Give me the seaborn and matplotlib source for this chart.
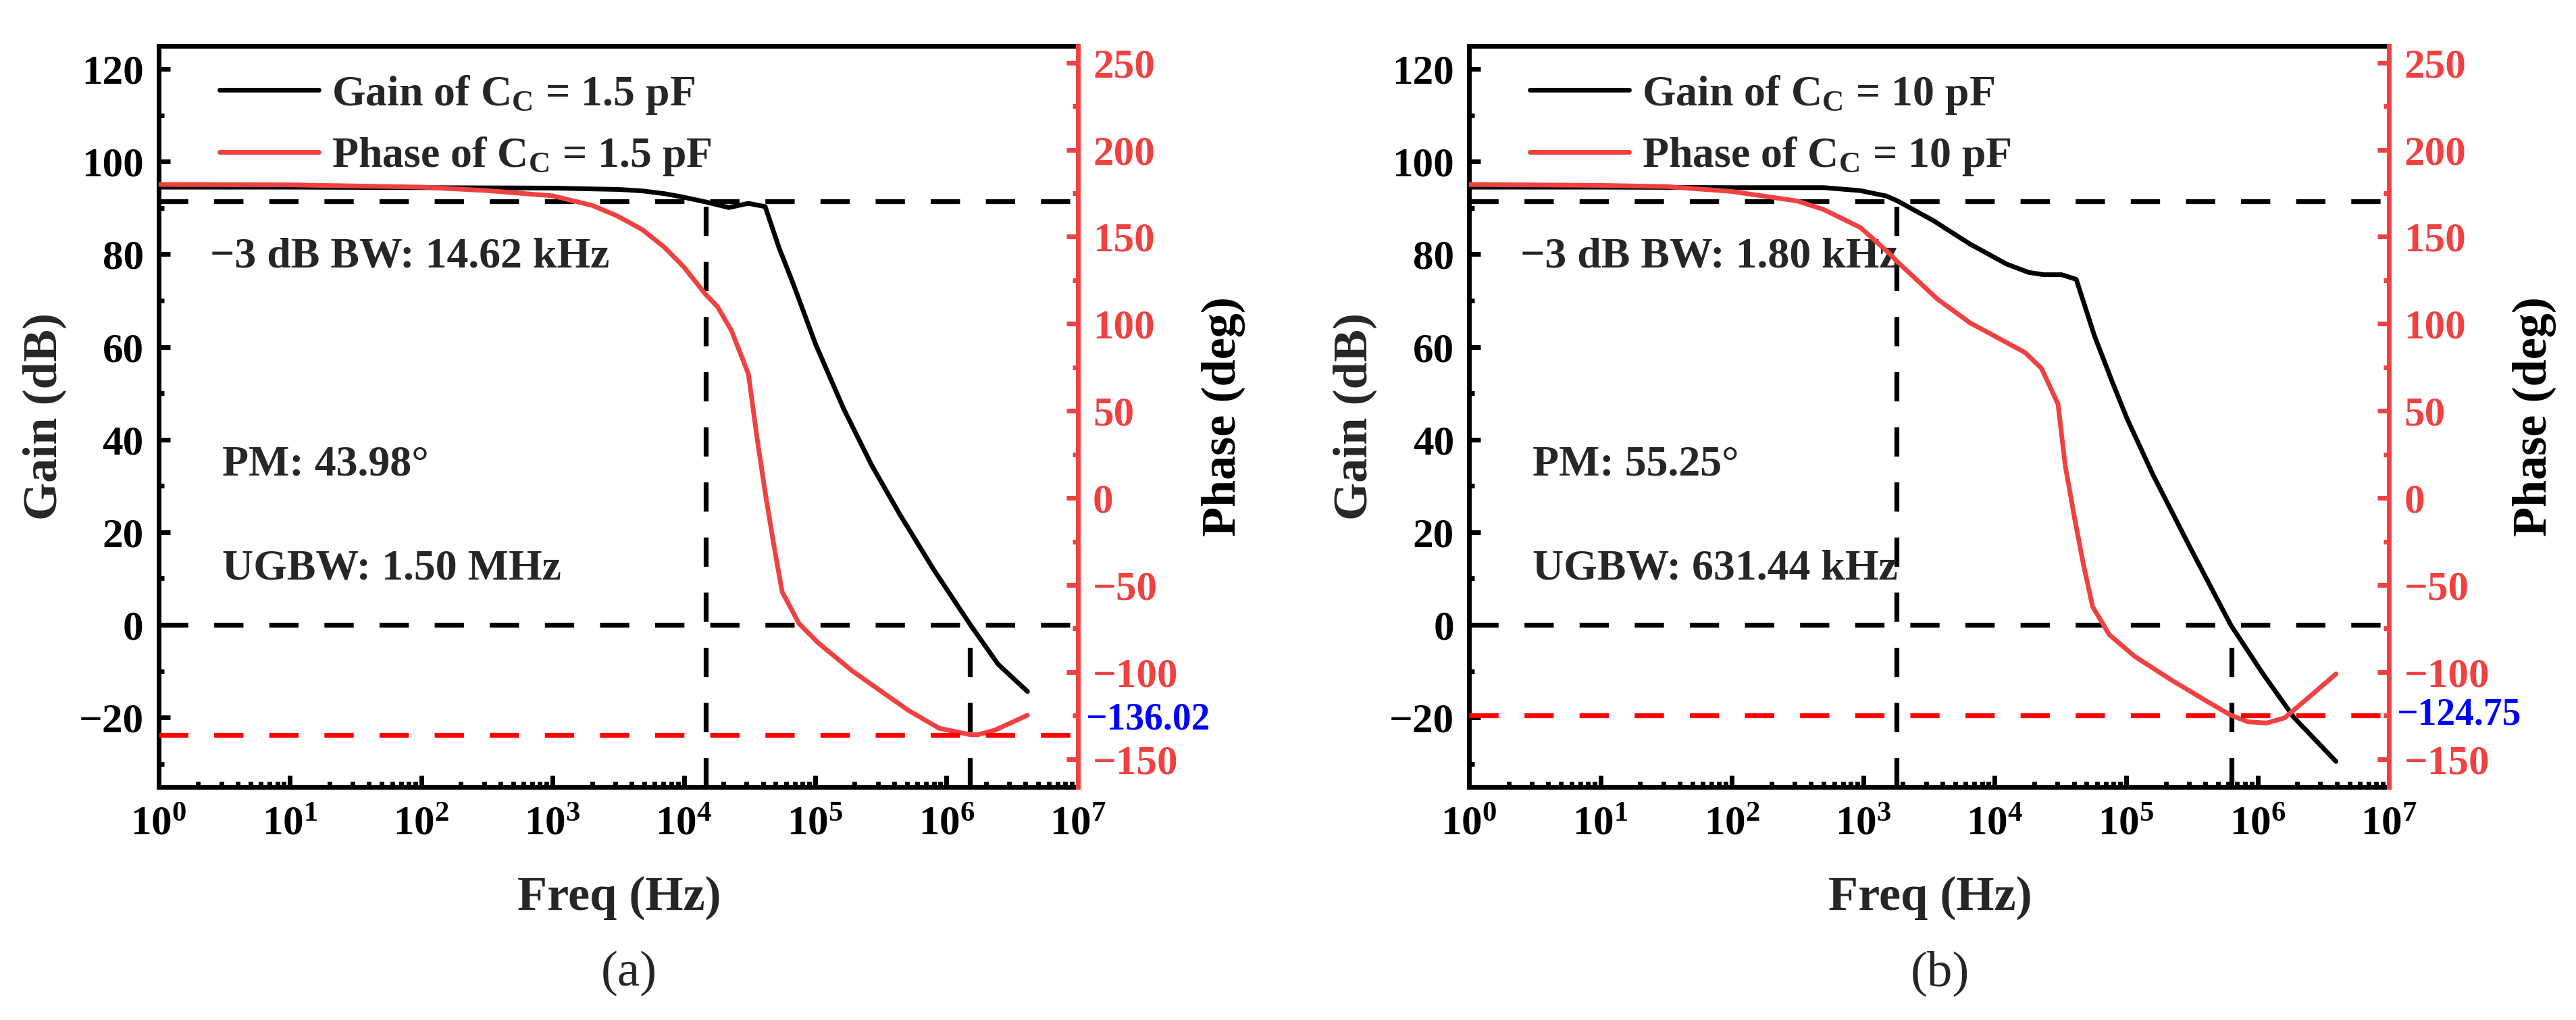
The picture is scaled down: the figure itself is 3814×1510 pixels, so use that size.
import numpy as np
import matplotlib
matplotlib.use("Agg")
import matplotlib.pyplot as plt
from matplotlib.ticker import MultipleLocator, LogLocator, FuncFormatter, NullFormatter
import seaborn as sns

# ---- data ----
# (a) Cc = 1.5 pF
freq_gain_a = [1, 10, 100, 1e3, 3.2e3, 4.8e3, 7.1e3, 9.5e3, 14.7e3, 22e3, 31e3, 41.6e3,
               53.2e3, 68.1e3, 101e3, 165e3, 270e3, 442e3, 796e3, 1.52e6, 2.47e6, 4.14e6]
gain_a = [94.5, 94.5, 94.4, 94.3, 94.0, 93.7, 93.1, 92.45, 91.3, 90.1, 91.0, 90.3,
          81.3, 73.6, 60.5, 46.6, 34.4, 23.8, 12.0, 0.0, -8.5, -14.4]
freq_phase_a = [1, 10, 100, 316, 1e3, 2e3, 3.1e3, 4.8e3, 7.1e3, 1e4, 14.7e3, 18e3, 23e3,
                31e3, 36e3, 41.6e3, 48.3e3, 56e3, 75.2e3, 106e3, 191e3, 313e3, 512e3,
                879e3, 1.52e6, 1.74e6, 2.35e6, 4.14e6]
phase_a = [180, 179.8, 178.5, 176.5, 173.5, 168, 162, 154.2, 144, 132.6, 116.7, 109.9, 96.2,
           71.2, 34.9, 3.1, -26.6, -53.9, -72.1, -83.4, -99.3, -110.7, -122.0,
           -132.3, -136.0, -136.0, -133.3, -124.8]

# (b) Cc = 10 pF
freq_gain_b = [1, 10, 100, 500, 950, 1.49e3, 1.8e3, 3.4e3, 6.5e3, 12.3e3, 18.1e3, 23.6e3,
               32.3e3, 41.7e3, 57.4e3, 79.3e3, 102e3, 160e3, 304e3, 624e3, 1.1e6, 1.89e6, 3.95e6]
gain_b = [94.5, 94.5, 94.4, 94.4, 93.75, 92.6, 91.6, 87.3, 82.2, 77.9, 76.1, 75.6,
          75.6, 74.6, 62.4, 52.1, 44.4, 32.4, 16.9, 0.0, -10.6, -20.0, -29.5]
freq_phase_b = [1, 10, 32, 100, 316, 500, 950, 1.58e3, 1.8e3, 3.65e3, 6.5e3, 10.9e3, 17e3,
                22.7e3, 30.3e3, 34.4e3, 40.4e3, 47.4e3, 55.6e3, 74.3e3, 116e3, 221e3,
                420e3, 624e3, 847e3, 1.17e6, 1.61e6, 2.52e6, 3.95e6]
phase_b = [180, 179.5, 178.8, 176.0, 170.5, 165.6, 155.3, 140.4, 135.9, 114.3, 100.5, 91.4, 83.5,
           74.4, 53.9, 18.5, -11.2, -38.6, -62.5, -78.5, -91.0, -104.6,
           -117.2, -124.75, -128.6, -129.3, -126.3, -113.8, -101.1]

# marker values
gain_3db = 91.5
f3db_a, f3db_b = 14.62e3, 1.80e3
ugbw_a, ugbw_b = 1.50e6, 631.44e3
phase_ugbw_a, phase_ugbw_b = -136.02, -124.75

cc_a, cc_b = "1.5", "10"
bw_text_a, bw_text_b = "\u22123 dB BW: 14.62 kHz", "\u22123 dB BW: 1.80 kHz"
pm_text_a, pm_text_b = "PM: 43.98\u00b0", "PM: 55.25\u00b0"
ugbw_text_a, ugbw_text_b = "UGBW: 1.50 MHz", "UGBW: 631.44 kHz"

RED = "#F04141"
DASH_RED = "#FF0000"

sns.set_theme(style="ticks")
plt.rcParams["font.family"] = ["Liberation Serif", "DejaVu Serif"]
plt.rcParams["font.weight"] = "bold"
plt.rcParams["axes.labelweight"] = "bold"
plt.rcParams["mathtext.fontset"] = "custom"
plt.rcParams["mathtext.rm"] = "Liberation Serif:bold"
plt.rcParams["mathtext.bf"] = "Liberation Serif:bold"
plt.rcParams["mathtext.it"] = "Liberation Serif:bold"
plt.rcParams["axes.unicode_minus"] = True

LW = 2.5
DASH = (0, (6, 5.3))


def draw_panel(ax, fg, g, fp, p, f3db, ugbw, ph_ugbw, cc, bw_text, pm_text, ugbw_text,
               blue_offset, panel_label):
    ax2 = ax.twinx()

    sns.lineplot(x=fg, y=g, ax=ax, color="black", lw=LW, sort=False,
                 solid_capstyle="round")
    sns.lineplot(x=fp, y=p, ax=ax2, color=RED, lw=LW, sort=False,
                 solid_capstyle="round")

    ax.set_xscale("log")
    ax.set_xlim(1, 1e7)
    ax.set_ylim(-35, 125)
    ax2.set_ylim(-166, 259.6)

    # guide lines
    ax.axhline(gain_3db, color="black", lw=2.6, ls=DASH)
    ax.axhline(0, color="black", lw=2.6, ls=DASH)
    ax.plot([f3db, f3db], [-35, gain_3db], color="black", lw=2.6, ls=DASH)
    ax.plot([ugbw, ugbw], [-35, 0], color="black", lw=2.6, ls=DASH)
    ax2.axhline(ph_ugbw, color=DASH_RED, lw=2.6, ls=DASH)

    # ticks
    ax.xaxis.set_major_locator(LogLocator(base=10, numticks=20))
    ax.xaxis.set_minor_locator(LogLocator(base=10, subs=np.arange(2, 10), numticks=100))
    ax.xaxis.set_major_formatter(FuncFormatter(lambda v, pos: r"$\mathbf{10^{%d}}$" % round(np.log10(v))))
    ax.xaxis.set_minor_formatter(NullFormatter())
    ax.yaxis.set_major_locator(MultipleLocator(20))
    ax.yaxis.set_minor_locator(MultipleLocator(10))
    ax2.yaxis.set_major_locator(MultipleLocator(50))
    ax2.yaxis.set_minor_locator(MultipleLocator(25))

    ax.tick_params(which="both", direction="in", top=False, right=False,
                   labelsize=22, width=2.5, colors="black")
    ax.tick_params(which="major", length=6, pad=8)
    ax.tick_params(axis="x", which="major", pad=10)
    ax.tick_params(which="minor", length=2.8)
    ax2.tick_params(which="both", direction="in", left=False, right=True,
                    labelsize=22, width=2.5, colors=RED)
    ax2.tick_params(which="major", length=6, pad=8)
    ax2.tick_params(which="minor", length=2.8)
    for lab in ax.get_xticklabels() + ax.get_yticklabels() + ax2.get_yticklabels():
        lab.set_fontweight("bold")

    for side in ["left", "bottom", "top"]:
        ax.spines[side].set_linewidth(2.5)
        ax.spines[side].set_color("black")
        ax2.spines[side].set_visible(False)
    ax.spines["right"].set_visible(False)
    ax2.spines["right"].set_linewidth(2.5)
    ax2.spines["right"].set_color(RED)

    # labels
    ax.set_xlabel("Freq (Hz)", fontsize=26, va="center")
    ax.xaxis.set_label_coords(0.501, -0.150)
    ax.set_ylabel("Gain (dB)", fontsize=26, va="center")
    ax.yaxis.set_label_coords(-0.124, 0.5)
    ax2.set_ylabel("Phase (deg)", fontsize=26, va="center", color="black")
    ax2.yaxis.set_label_coords(1.158, 0.5)

    ax.text(0.512, -0.2516, panel_label, transform=ax.transAxes, ha="center",
            va="center", fontsize=27, fontweight="normal")

    ax.text(0.056, 0.715, bw_text, transform=ax.transAxes, fontsize=23,
            ha="left", va="center")
    ax.text(0.069, 0.434, pm_text, transform=ax.transAxes, fontsize=23,
            ha="left", va="center")
    ax.text(0.069, 0.294, ugbw_text, transform=ax.transAxes, fontsize=23,
            ha="left", va="center")

    ax2.text(1.008, ph_ugbw + blue_offset, f"{ph_ugbw:.2f}".replace("-", "\u2212"),
             transform=ax2.get_yaxis_transform(), color="#0000FF", fontsize=20,
             ha="left", va="center", clip_on=False)

    # legend
    handles = [ax.lines[0], ax2.lines[0]]
    labels = [r"Gain of C$_{\mathbf{C}}$ = %s pF" % cc,
              r"Phase of C$_{\mathbf{C}}$ = %s pF" % cc]
    if ax.get_legend() is not None:
        ax.get_legend().remove()
    if ax2.get_legend() is not None:
        ax2.get_legend().remove()
    ax2.legend(handles, labels, loc="upper left", bbox_to_anchor=(0.066, 0.963),
               frameon=False, fontsize=23, handlelength=2.3, handletextpad=0.3,
               labelspacing=0.45, borderpad=0, borderaxespad=0)


fig = plt.figure(figsize=(3814 / 200, 1510 / 200), dpi=200)
ax_a = fig.add_axes([0.0616, 0.2285, 0.3568, 0.7265])
ax_b = fig.add_axes([0.5703, 0.2285, 0.3571, 0.7265])

draw_panel(ax_a, freq_gain_a, gain_a, freq_phase_a, phase_a, f3db_a, ugbw_a, phase_ugbw_a,
           cc_a, bw_text_a, pm_text_a, ugbw_text_a, 8.5, "(a)")
draw_panel(ax_b, freq_gain_b, gain_b, freq_phase_b, phase_b, f3db_b, ugbw_b, phase_ugbw_b,
           cc_b, bw_text_b, pm_text_b, ugbw_text_b, 0.0, "(b)")

fig.savefig("out.png", dpi=200)
